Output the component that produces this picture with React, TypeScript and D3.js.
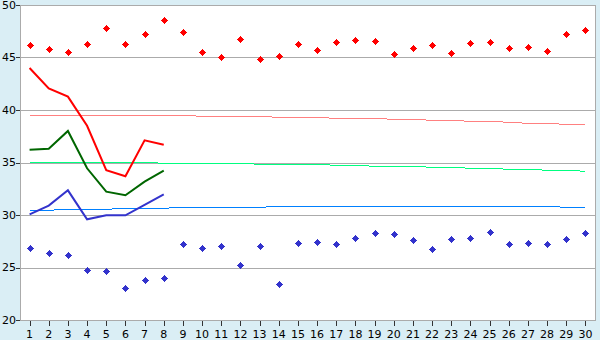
import React from "react";
import * as d3 from "d3";

const days: number[] = Array.from({ length: 30 }, (_, i) => i + 1);
const yTicks: number[] = [20, 25, 30, 35, 40, 45, 50];

const recordMax: number[] = [46.2, 45.8, 45.5, 46.25, 47.8, 46.25, 47.2, 48.55, 47.4, 45.5,
  45.0, 46.8, 44.83, 45.1, 46.25, 45.7, 46.5, 46.7, 46.6, 45.3,
  45.87, 46.16, 45.4, 46.35, 46.44, 45.87, 45.97, 45.6, 47.2, 47.6];
const recordMin: number[] = [26.83, 26.35, 26.16, 24.73, 24.63, 23.02, 23.78, 23.97, 27.21, 26.83,
  27.02, 25.21, 27.02, 23.4, 27.3, 27.4, 27.21, 27.78, 28.25, 28.16,
  27.59, 26.73, 27.68, 27.78, 28.35, 27.21, 27.3, 27.21, 27.68, 28.25];
const normalMax: number[] = [39.49, 39.49, 39.49, 39.49, 39.49, 39.49, 39.49, 39.49, 39.49, 39.4,
  39.4, 39.4, 39.4, 39.3, 39.3, 39.3, 39.2, 39.2, 39.2, 39.11,
  39.11, 39.02, 39.02, 38.92, 38.92, 38.83, 38.73, 38.73, 38.63, 38.63];
const normalMean: number[] = [35.02, 35.02, 35.02, 35.02, 35.02, 35.02, 35.02, 34.92, 34.92, 34.92,
  34.92, 34.92, 34.83, 34.83, 34.83, 34.83, 34.73, 34.73, 34.64, 34.64,
  34.64, 34.54, 34.54, 34.45, 34.45, 34.35, 34.35, 34.26, 34.26, 34.16];
const normalMin: number[] = [30.45, 30.45, 30.54, 30.54, 30.54, 30.64, 30.64, 30.64, 30.73, 30.73,
  30.73, 30.73, 30.73, 30.83, 30.83, 30.83, 30.83, 30.83, 30.83, 30.83,
  30.83, 30.83, 30.83, 30.83, 30.83, 30.83, 30.83, 30.83, 30.73, 30.73];
const actualMax: number[] = [44.0, 42.06, 41.27, 38.5, 34.26, 33.69, 37.11, 36.7];
const actualMean: number[] = [36.22, 36.3, 38.0, 34.45, 32.22, 31.88, 33.17, 34.22];
const actualMin: number[] = [30.06, 30.89, 32.35, 29.59, 29.97, 29.97, 30.97, 31.97];

const W = 600, H = 340;
const left = 20, right = 595, top = 5, bottom = 320;
const font = "'DejaVu Sans', Verdana, sans-serif";

export default function App() {
  const x = d3.scalePoint<number>().domain(days).range([left, right]).padding(0.5);
  const y = d3.scaleLinear().domain([20, 50]).range([bottom, top]);
  const line = (vals: number[]) =>
    d3.line<number>().x((_, i) => x(days[i])!).y((v) => y(v))(vals) || "";
  const rect = (x0: number, y0: number, w: number, h: number) => `M${x0},${y0}h${w}v${h}h${-w}z`;
  const marker = (cx: number, cy: number) =>
    rect(cx - 1, cy - 2, 3, 5) + rect(cx - 2, cy - 1, 5, 3) + rect(cx, cy - 3, 1, 7) + rect(cx - 3, cy, 7, 1);
  const rnd = (v: number) => Math.round(v);

  return (
    <svg width={W} height={H} style={{ position: "absolute", left: 0, top: 0, display: "block" }}>
      <rect x={0} y={0} width={W} height={H} fill="#daeef5" />
      <rect x={left} y={top} width={right - left} height={bottom - top} fill="#ffffff" />
      {yTicks.map((t) => (
        <g key={t}>
          <line x1={left} x2={right} y1={rnd(y(t)) + 0.5} y2={rnd(y(t)) + 0.5} stroke="#ababab" strokeWidth={1} shapeRendering="crispEdges" />
          <line x1={left - 4} x2={left} y1={rnd(y(t)) + 0.5} y2={rnd(y(t)) + 0.5} stroke="#333" strokeWidth={1} shapeRendering="crispEdges" />
          <text x={16} y={y(t)} dy="0.36em" textAnchor="end" fontFamily={font} fontSize={11} fill="#000">{t}</text>
        </g>
      ))}
      <line x1={left + 0.5} x2={left + 0.5} y1={top} y2={bottom} stroke="#ababab" shapeRendering="crispEdges" />
      <line x1={right + 0.5} x2={right + 0.5} y1={top} y2={bottom + 1} stroke="#ababab" shapeRendering="crispEdges" />
      {days.map((d) => (
        <g key={d}>
          <line x1={rnd(x(d)!) + 0.5} x2={rnd(x(d)!) + 0.5} y1={bottom} y2={bottom + 6} stroke="#333" shapeRendering="crispEdges" />
          <text x={x(d)!} y={338} textAnchor="middle" fontFamily={font} fontSize={11} fill="#000">{d}</text>
        </g>
      ))}
      <path d={line(normalMax)} fill="none" stroke="#ff8080" strokeWidth={1} shapeRendering="crispEdges" />
      <path d={line(normalMean)} fill="none" stroke="#00ff80" strokeWidth={1} shapeRendering="crispEdges" />
      <path d={line(normalMin)} fill="none" stroke="#0080ff" strokeWidth={1} shapeRendering="crispEdges" />
      <path d={line(actualMax)} fill="none" stroke="#ff0000" strokeWidth={2} />
      <path d={line(actualMean)} fill="none" stroke="#006600" strokeWidth={2} />
      <path d={line(actualMin)} fill="none" stroke="#3333cc" strokeWidth={2} />
      {recordMax.map((v, i) => (
        <path key={"mx" + i} d={marker(rnd(x(days[i])!), rnd(y(v)))} fill="#ff0000" shapeRendering="crispEdges" />
      ))}
      {recordMin.map((v, i) => (
        <path key={"mn" + i} d={marker(rnd(x(days[i])!), rnd(y(v)))} fill="#3333cc" shapeRendering="crispEdges" />
      ))}
      <line x1={left} x2={right} y1={bottom + 0.5} y2={bottom + 0.5} stroke="#ababab" shapeRendering="crispEdges" />
      <line x1={left} x2={right + 1} y1={top + 0.5} y2={top + 0.5} stroke="#ababab" shapeRendering="crispEdges" />
    </svg>
  );
}
